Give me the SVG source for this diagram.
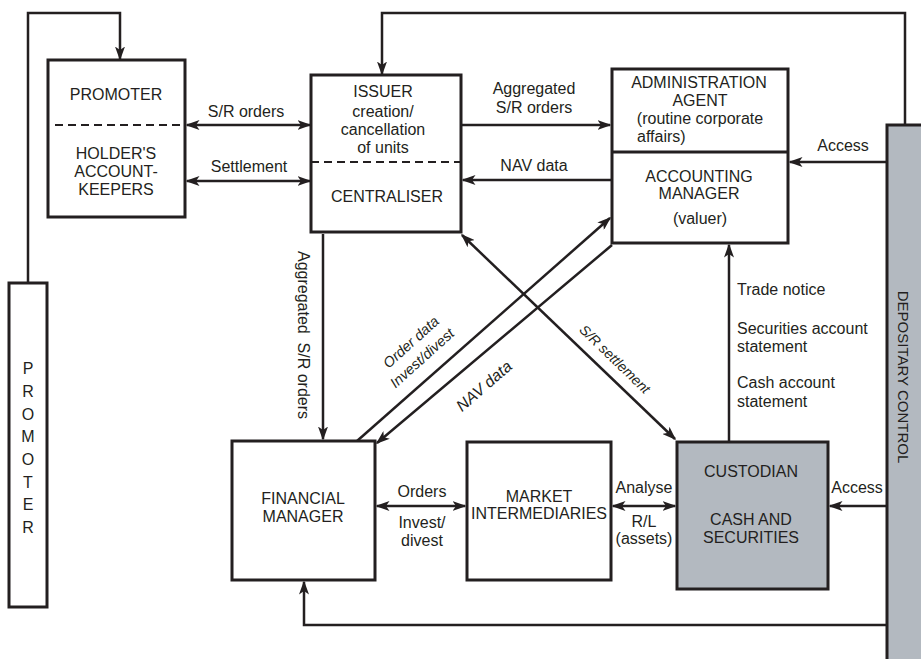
<svg xmlns="http://www.w3.org/2000/svg" width="921" height="659" viewBox="0 0 921 659">
<style>
  text { font-family: "Liberation Sans", Arial, sans-serif; font-size: 16px; fill: #231f20; }
  .c { text-anchor: middle; }
  .it { font-style: italic; }
  .box { fill: #ffffff; stroke: #231f20; stroke-width: 3; }
  .grey { fill: #b3b9c0; stroke: #231f20; stroke-width: 3; }
  .ln { fill: none; stroke: #231f20; stroke-width: 2.5; }
  .end { marker-end: url(#ah); }
  .both { marker-start: url(#ah); marker-end: url(#ah); }
  .dash { fill: none; stroke: #231f20; stroke-width: 2; stroke-dasharray: 8 5; }
</style>
<defs>
  <marker id="ah" viewBox="0 0 14 10" refX="12.5" refY="5" markerWidth="14" markerHeight="10" markerUnits="userSpaceOnUse" orient="auto-start-reverse">
    <path d="M0,0 L14,5 L0,10 L3.5,5 z" fill="#231f20"/>
  </marker>
</defs>
<rect x="0" y="0" width="921" height="659" fill="#ffffff"/>

<g id="connectors">
  <path class="ln end" d="M28,283 V13 H120 V59"/>
  <path class="ln end" d="M905,125 V13 H382 V74"/>
  <line class="ln both" x1="187" y1="125" x2="310" y2="125"/>
  <line class="ln both" x1="187" y1="181" x2="310" y2="181"/>
  <line class="ln end" x1="462" y1="125" x2="610" y2="125"/>
  <line class="ln end" x1="612" y1="180" x2="463" y2="180"/>
  <line class="ln end" x1="887" y1="162" x2="790" y2="162"/>
  <line class="ln end" x1="729" y1="441" x2="729" y2="245"/>
  <line class="ln end" x1="887" y1="506" x2="830" y2="506"/>
  <line class="ln both" x1="613" y1="506" x2="675" y2="506"/>
  <line class="ln both" x1="377" y1="506" x2="465" y2="506"/>
  <path class="ln end" d="M887,625 H304 V582"/>
  <line class="ln end" x1="323" y1="234" x2="323" y2="439"/>
  <line class="ln both" x1="462" y1="235" x2="675" y2="439"/>
  <line class="ln end" x1="357" y1="441" x2="610" y2="218"/>
  <line class="ln end" x1="612" y1="245" x2="377" y2="443"/>

  <text x="246" y="117" class="c">S/R orders</text>
  <text x="249" y="172" class="c">Settlement</text>
  <text x="534" y="94" class="c">Aggregated</text>
  <text x="534" y="113" class="c">S/R orders</text>
  <text x="534" y="171" class="c">NAV data</text>
  <text x="843" y="151" class="c">Access</text>
  <text x="737" y="295">Trade notice</text>
  <text x="737" y="334">Securities account</text>
  <text x="737" y="352">statement</text>
  <text x="737" y="388">Cash account</text>
  <text x="737" y="407">statement</text>
  <text x="857" y="493" class="c">Access</text>
  <text x="644" y="493" class="c">Analyse</text>
  <text x="644" y="527" class="c">R/L</text>
  <text x="644" y="544" class="c">(assets)</text>
  <text x="422" y="497" class="c">Orders</text>
  <text x="422" y="528" class="c">Invest/</text>
  <text x="422" y="546" class="c">divest</text>
  <text transform="translate(303,335) rotate(90)" class="c" dy="5.5" xml:space="preserve">Aggregated  S/R orders</text>
  <text transform="translate(411,342) rotate(-42)" class="c it" dy="5" style="font-size:14.5px">Order data</text>
  <text transform="translate(422,358) rotate(-42)" class="c it" dy="5" style="font-size:14.5px">Invest/divest</text>
  <text transform="translate(484,386) rotate(-41)" class="c it" dy="5.5">NAV data</text>
  <text transform="translate(615,359) rotate(44)" class="c it" dy="5" style="font-size:14px">S/R settlement</text>
</g>

<g id="promoter-left">
  <rect class="box" x="9" y="283" width="38" height="324"/>
  <text x="28" y="374" class="c">P</text>
  <text x="28" y="397" class="c">R</text>
  <text x="28" y="420" class="c">O</text>
  <text x="28" y="442" class="c">M</text>
  <text x="28" y="465" class="c">O</text>
  <text x="28" y="488" class="c">T</text>
  <text x="28" y="510" class="c">E</text>
  <text x="28" y="533" class="c">R</text>
</g>

<g id="promoter-holders">
  <rect class="box" x="48" y="60" width="137" height="157"/>
  <line class="dash" x1="55" y1="125" x2="185" y2="125"/>
  <text x="116" y="100" class="c">PROMOTER</text>
  <text x="116" y="159" class="c">HOLDER'S</text>
  <text x="116" y="177" class="c">ACCOUNT-</text>
  <text x="116" y="195" class="c">KEEPERS</text>
</g>

<g id="issuer-centraliser">
  <rect class="box" x="311" y="75" width="150" height="157"/>
  <line class="dash" x1="311" y1="162" x2="461" y2="162"/>
  <text x="383" y="97" class="c">ISSUER</text>
  <text x="383" y="117" class="c">creation/</text>
  <text x="383" y="135" class="c">cancellation</text>
  <text x="383" y="153" class="c">of units</text>
  <text x="387" y="202" class="c">CENTRALISER</text>
</g>

<g id="admin-accounting">
  <rect class="box" x="612" y="69" width="176" height="174"/>
  <line x1="612" y1="152" x2="788" y2="152" stroke="#231f20" stroke-width="3"/>
  <text x="699" y="88" class="c">ADMINISTRATION</text>
  <text x="700" y="106" class="c">AGENT</text>
  <text x="700" y="124" class="c">(routine corporate</text>
  <text x="637" y="142">affairs)</text>
  <text x="699" y="182" class="c">ACCOUNTING</text>
  <text x="699" y="199" class="c">MANAGER</text>
  <text x="700" y="224" class="c">(valuer)</text>
</g>

<g id="financial-manager">
  <rect class="box" x="232" y="441" width="143" height="139"/>
  <text x="303" y="504" class="c">FINANCIAL</text>
  <text x="303" y="522" class="c">MANAGER</text>
</g>

<g id="market-intermediaries">
  <rect class="box" x="467" y="442" width="144" height="138"/>
  <text x="539" y="502" class="c">MARKET</text>
  <text x="539" y="519" class="c">INTERMEDIARIES</text>
</g>

<g id="custodian">
  <rect class="grey" x="677" y="442" width="151" height="147"/>
  <text x="751" y="477" class="c">CUSTODIAN</text>
  <text x="751" y="525" class="c">CASH AND</text>
  <text x="751" y="543" class="c">SECURITIES</text>
</g>

<g id="depositary-control">
  <rect class="grey" x="887" y="125" width="40" height="540"/>
  <text transform="translate(903,377) rotate(90)" class="c" dy="5" style="font-size:15px">DEPOSITARY CONTROL</text>
</g>
</svg>
